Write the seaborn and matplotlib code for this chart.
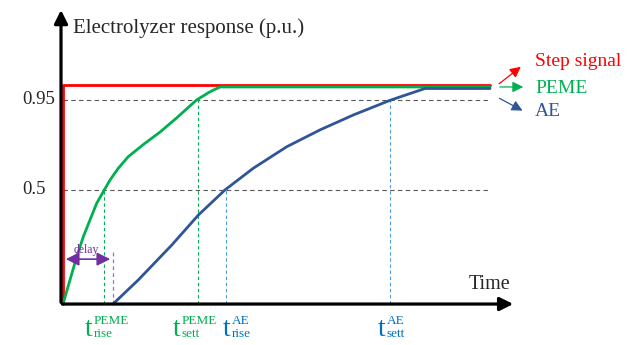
import numpy as np
import pandas as pd
import matplotlib
matplotlib.use("Agg")
import matplotlib.pyplot as plt
import seaborn as sns

# Schematic response data (time and response in drawing units)
step_t = [0.0, 0.0, 4.27]
step_y = [0.0, 1.0, 1.0]

peme_t = [0.0, 0.07, 0.137, 0.203, 0.27, 0.337, 0.413, 0.47, 0.553, 0.653,
          0.803, 0.97, 1.137, 1.337, 1.47, 1.57, 4.27]
peme_y = [0.0, 0.110, 0.216, 0.307, 0.384, 0.460, 0.521, 0.566, 0.620, 0.673,
          0.728, 0.785, 0.850, 0.932, 0.969, 0.991, 0.991]

ae_t = [0.50, 0.753, 1.087, 1.353, 1.62, 1.903, 2.237, 2.57, 2.903, 3.27, 3.62, 4.27]
ae_y = [0.0, 0.110, 0.269, 0.406, 0.521, 0.620, 0.718, 0.795, 0.863, 0.930, 0.984, 0.984]

level_pos = [0.521, 0.932]
level_labels = ["0.5", "0.95"]

marker_t = [0.41, 1.35, 1.63, 3.27]
marker_y = [0.521, 0.932, 0.521, 0.932]
marker_sup = ["PEME", "PEME", "AE", "AE"]
marker_sub = ["rise", "sett", "rise", "sett"]
delay_end = 0.50

legend_names = ["Step signal", "PEME", "AE"]

RED = "#FF0000"
GREEN = "#00B050"
BLUE = "#2F5597"
LBLUE = "#0070C0"
PURPLE = "#7030A0"

sns.set_theme(style="white")
plt.rcParams["font.family"] = ["Liberation Serif", "DejaVu Serif"]

fig = plt.figure(figsize=(6.43, 3.45), dpi=100)
ax = fig.add_axes([0, 0, 1, 1])

# reference levels
for lv in level_pos:
    ax.plot([0, 4.27], [lv, lv], color="#595959", lw=0.8, dashes=(4, 3))

# vertical markers
mcolors = [GREEN, GREEN, "#4A9AE0", "#4A9AE0"]
for t, y, c in zip(marker_t, marker_y, mcolors):
    ax.plot([t, t], [0, y], color=c, lw=0.8, dashes=(3, 2.5))
ax.plot([delay_end, delay_end], [0, 0.25], color="#9B6FC8", lw=0.9, dashes=(3, 2.5))

# curves
df = pd.concat([
    pd.DataFrame({"t": step_t, "y": step_y, "s": "Step signal"}),
    pd.DataFrame({"t": peme_t, "y": peme_y, "s": "PEME"}),
    pd.DataFrame({"t": ae_t, "y": ae_y, "s": "AE"}),
])
for name, c in zip(legend_names, [RED, GREEN, BLUE]):
    d = df[df["s"] == name]
    sns.lineplot(data=d, x="t", y="y", sort=False, estimator=None, color=c,
                 lw=2.0, ax=ax, legend=False)

ax.set_xlim(-0.63, 5.80)
ax.set_ylim(-0.187, 1.388)
ax.axis("off")

# axes arrows
ax.annotate("", xy=(-0.02, 1.355), xytext=(-0.02, -0.005),
            arrowprops=dict(arrowstyle="-|>", lw=2.3, color="black", mutation_scale=20))
ax.annotate("", xy=(4.53, 0.0), xytext=(-0.035, 0.0),
            arrowprops=dict(arrowstyle="-|>", lw=2.3, color="black", mutation_scale=20))

# delay arrow
ax.annotate("", xy=(delay_end, 0.205), xytext=(0.0, 0.205),
            arrowprops=dict(arrowstyle="<|-|>", lw=1.2, color=PURPLE, mutation_scale=20))
ax.text(0.23, 0.248, "delay", color=PURPLE, fontsize=8.5, ha="center", va="center")

# texts
ax.text(0.10, 1.26, "Electrolyzer response (p.u.)", fontsize=15, ha="left", va="center")
for lv, lab in zip(level_pos, level_labels):
    ax.text(-0.41, lv, lab, fontsize=13.5, ha="left", va="center")
ax.text(4.27, 0.087, "Time", fontsize=14.5, ha="center", va="center")

# time labels
tcols = [GREEN, GREEN, LBLUE, LBLUE]
t_left = [0.22, 1.10, 1.60, 3.15]
for tl, sup, sub, c in zip(t_left, marker_sup, marker_sub, tcols):
    ax.text(tl, -0.146, "t", fontsize=20, color=c, ha="left", va="baseline")
    ax.text(tl + 0.085, -0.091, sup, fontsize=9.5, color=c, ha="left", va="baseline")
    ax.text(tl + 0.085, -0.150, sub, fontsize=9.5, color=c, ha="left", va="baseline")

# legend arrows and labels
leg_y = [1.105, 0.986, 0.877]
arrow_end = [(4.60, 1.091), (4.63, 0.991), (4.62, 0.877)]
arrow_start = [(4.34, 0.998), (4.34, 0.991), (4.34, 0.945)]
for name, c, y, s, e in zip(legend_names, [RED, GREEN, BLUE], leg_y, arrow_start, arrow_end):
    ax.annotate("", xy=e, xytext=s,
                arrowprops=dict(arrowstyle="-|>", lw=0.9, color=c, mutation_scale=16))
    ax.text(4.72, y, name, fontsize=14, color=c, ha="left", va="center")

fig.savefig("out.png", dpi=100)
